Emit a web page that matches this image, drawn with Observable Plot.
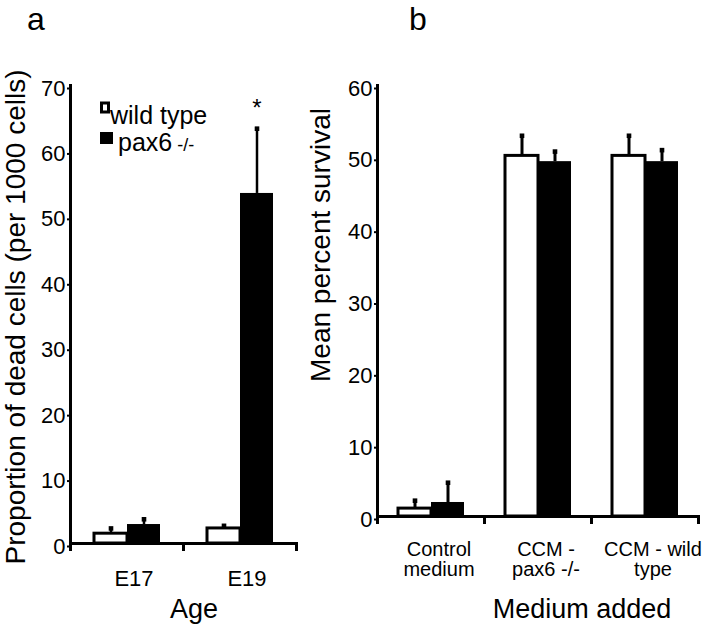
<!DOCTYPE html>
<html>
<head>
<meta charset="utf-8">
<script src="https://cdn.jsdelivr.net/npm/d3@7"></script>
<script src="https://cdn.jsdelivr.net/npm/@observablehq/plot@0.6"></script>
<style>
  body { margin: 0; background: white; }
  #root { position: relative; width: 720px; height: 630px; background: white; overflow: hidden; }
  #pa, #pb, #ann { position: absolute; top: 0; }
  #pa { left: 0; }
  #pb { left: 300px; }
  #ann { left: 0; pointer-events: none; }
</style>
</head>
<body>
<div id="root">
  <div id="pa"></div>
  <div id="pb"></div>
  <svg id="ann" width="720" height="630"></svg>
</div>
<script>
// ---------- data ----------
const genotypes = ["wild type", "pax6 -/-"];

// panel a: dead cells per 1000 cells
const ages = ["E17", "E19"];
const deadWild = [1.5, 2.3];
const deadWildErr = [0.8, 0.4];
const deadPax = [2.9, 53.5];
const deadPaxErr = [0.8, 9.9];
const deadSig = ["", "*"];
const deadTicks = [0, 10, 20, 30, 40, 50, 60, 70];

// panel b: mean percent survival
const media = ["Control\nmedium", "CCM -\npax6 -/-", "CCM - wild\ntype"];
const survWild = [1.1, 50.2, 50.2];
const survWildErr = [1.1, 2.8, 2.8];
const survPax = [1.95, 49.4, 49.4];
const survPaxErr = [2.75, 1.4, 1.6];
const survTicks = [0, 10, 20, 30, 40, 50, 60];

const FONT = "'Liberation Sans', Arial, Helvetica, sans-serif";

function rows(cats, wild, wildErr, pax, paxErr, sig) {
  return cats.flatMap((c, i) => [
    {cat: c, geno: genotypes[0], v: wild[i], e: wildErr[i], sig: ""},
    {cat: c, geno: genotypes[1], v: pax[i], e: paxErr[i], sig: sig ? sig[i] : ""}
  ]);
}

function chart(o) {
  const frameH = 630 - o.marginTop - o.marginBottom;
  const data = o.data;
  return Plot.plot({
    width: o.width,
    height: 630,
    marginTop: o.marginTop,
    marginLeft: o.marginLeft,
    marginRight: o.marginRight,
    marginBottom: o.marginBottom,
    style: {fontFamily: FONT, fontSize: "22px", color: "black", background: "transparent"},
    fx: {domain: o.cats, padding: 0, label: null},
    x: {domain: genotypes, paddingInner: 0, paddingOuter: o.padOuter, axis: null},
    y: {domain: [0, o.yMax], label: null},
    marks: [
      Plot.axisY({ticks: o.ticks, tickSize: 3, tickPadding: 2, strokeWidth: 2, fontSize: 22, dy: 3, label: null}),
      Plot.axisFx({anchor: "bottom", tickSize: 0, tickPadding: o.labelPad, fontSize: o.labelSize, lineHeight: 1.0, dx: o.labelDx, label: null}),
      Plot.barY(data.filter(d => d.geno === genotypes[0]), {fx: "cat", x: "geno", y: "v", fill: "white", stroke: "black", strokeWidth: 3}),
      Plot.barY(data.filter(d => d.geno === genotypes[1]), {fx: "cat", x: "geno", y: "v", fill: "black"}),
      Plot.ruleX(data, {fx: "cat", x: "geno", y1: "v", y2: d => d.v + d.e, strokeWidth: o.stem}),
      Plot.dot(data, {fx: "cat", x: "geno", y: d => d.v + d.e, symbol: "square", r: 2.6, fill: "black"}),
      Plot.text(data.filter(d => d.sig), {fx: "cat", x: "geno", y: d => d.v + d.e, text: "sig", fontSize: 24, dy: -20}),
      Plot.ruleY([0], {strokeWidth: 3}),
      Plot.frame({anchor: "left", facetAnchor: "left", strokeWidth: 3, insetBottom: -6}),
      Plot.frame({anchor: "right", strokeWidth: 3, insetTop: frameH, insetBottom: -6})
    ]
  });
}

document.getElementById("pa").append(chart({
  data: rows(ages, deadWild, deadWildErr, deadPax, deadPaxErr, deadSig),
  cats: ages, yMax: 70, ticks: deadTicks,
  width: 300, marginTop: 85, marginLeft: 69, marginRight: 4, marginBottom: 87,
  padOuter: 0.68, labelPad: 27, labelDx: 7, labelSize: 22, stem: 2.5
}));

document.getElementById("pb").append(chart({
  data: rows(media, survWild, survWildErr, survPax, survPaxErr, null),
  cats: media, yMax: 60, ticks: survTicks,
  width: 420, marginTop: 85, marginLeft: 77, marginRight: 22, marginBottom: 114,
  padOuter: 0.62, labelPad: 25, labelDx: 8, labelSize: 20, stem: 3
}));

// ---------- annotations: panel letters, axis titles, legend ----------
const ann = d3.select("#ann").style("font-family", FONT);
ann.append("text").attr("x", 27).attr("y", 30).attr("font-size", 32).text("a");
ann.append("text").attr("x", 409).attr("y", 30).attr("font-size", 32).text("b");

ann.append("text").attr("transform", "translate(25,317) rotate(-90)")
  .attr("text-anchor", "middle").attr("font-size", 28)
  .text("Proportion of dead cells (per 1000 cells)");
ann.append("text").attr("transform", "translate(330,245) rotate(-90)")
  .attr("text-anchor", "middle").attr("font-size", 28)
  .text("Mean percent survival");

ann.append("text").attr("x", 194).attr("y", 618).attr("text-anchor", "middle").attr("font-size", 27).text("Age");
ann.append("text").attr("x", 582).attr("y", 618).attr("text-anchor", "middle").attr("font-size", 27).text("Medium added");

// legend
const leg = [
  {name: genotypes[0], fill: "white", sx: 101.5, sy: 103, sw: 7, sh: 9, stroke: 3, tx: 110, ty: 124},
  {name: genotypes[1], fill: "black", sx: 100, sy: 132, sw: 13, sh: 12, stroke: 0, tx: 118, ty: 151}
];
leg.forEach(l => {
  ann.append("rect").attr("x", l.sx).attr("y", l.sy).attr("width", l.sw).attr("height", l.sh)
    .attr("fill", l.fill).attr("stroke", "black").attr("stroke-width", l.stroke);
  const t = ann.append("text").attr("x", l.tx).attr("y", l.ty).attr("font-size", 25);
  const m = l.name.match(/^(.*?)(\s*-\/-)?$/);
  t.append("tspan").text(m[1]);
  if (m[2]) t.append("tspan").attr("font-size", 18).text(m[2]);
});
</script>
</body>
</html>
